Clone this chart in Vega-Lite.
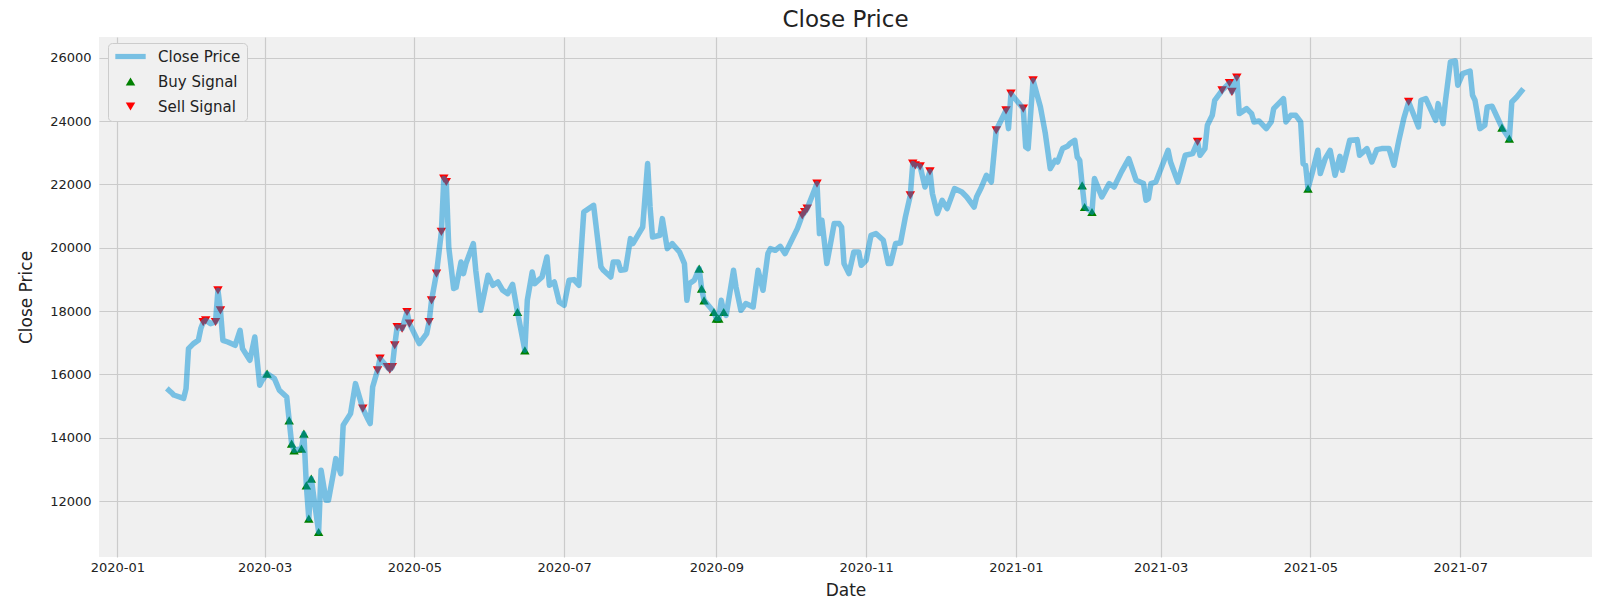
{
"$schema": "https://vega.github.io/schema/vega-lite/v6.json",
"autosize": {"type": "none"},
"width": 1493, "height": 520,
"padding": {"left": 99, "top": 37, "right": 8, "bottom": 51},
"background": "#ffffff",
"title": {"text": "Close Price", "font": "DejaVu Sans", "fontSize": 23, "fontWeight": "normal", "color": "#222222", "anchor": "middle", "frame": "group", "baseline": "alphabetic", "offset": 12, "dy": 24.5},
"config": {"view": {"fill": "#f0f0f0", "stroke": null}},
"data": {"values": [
{"Date":"2020-01-22","Close":15500},{"Date":"2020-01-23","Close":15430},{"Date":"2020-01-24","Close":15350},{"Date":"2020-01-28","Close":15240},{"Date":"2020-01-29","Close":15550},{"Date":"2020-01-30","Close":16815},{"Date":"2020-02-01","Close":16973},{"Date":"2020-02-03","Close":17077},{"Date":"2020-02-04","Close":17447},
{"Date":"2020-02-05","Close":17650,"Signal":"Sell Signal"},{"Date":"2020-02-06","Close":17709,"Signal":"Sell Signal"},{"Date":"2020-02-08","Close":17604},{"Date":"2020-02-10","Close":17656,"Signal":"Sell Signal"},{"Date":"2020-02-11","Close":18657,"Signal":"Sell Signal"},{"Date":"2020-02-12","Close":18025,"Signal":"Sell Signal"},
{"Date":"2020-02-13","Close":17077},{"Date":"2020-02-15","Close":17024},{"Date":"2020-02-18","Close":16920},{"Date":"2020-02-20","Close":17393},{"Date":"2020-02-21","Close":16815},{"Date":"2020-02-24","Close":16446},{"Date":"2020-02-26","Close":17182},{"Date":"2020-02-28","Close":15656},{"Date":"2020-02-29","Close":15813},
{"Date":"2020-03-02","Close":16025,"Signal":"Buy Signal"},{"Date":"2020-03-05","Close":15867},{"Date":"2020-03-07","Close":15498},{"Date":"2020-03-10","Close":15286},
{"Date":"2020-03-11","Close":14550,"Signal":"Buy Signal"},{"Date":"2020-03-12","Close":13813,"Signal":"Buy Signal"},{"Date":"2020-03-13","Close":13602,"Signal":"Buy Signal"},{"Date":"2020-03-16","Close":13655,"Signal":"Buy Signal"},{"Date":"2020-03-17","Close":14129,"Signal":"Buy Signal"},{"Date":"2020-03-18","Close":12496,"Signal":"Buy Signal"},{"Date":"2020-03-19","Close":11444,"Signal":"Buy Signal"},{"Date":"2020-03-20","Close":12708,"Signal":"Buy Signal"},{"Date":"2020-03-23","Close":11021,"Signal":"Buy Signal"},
{"Date":"2020-03-24","Close":12970},{"Date":"2020-03-26","Close":12022},{"Date":"2020-03-27","Close":12022},{"Date":"2020-03-29","Close":12866},{"Date":"2020-03-30","Close":13340},{"Date":"2020-04-01","Close":12866},{"Date":"2020-04-02","Close":14392},{"Date":"2020-04-05","Close":14761},{"Date":"2020-04-07","Close":15709},{"Date":"2020-04-09","Close":15182},
{"Date":"2020-04-10","Close":14919,"Signal":"Sell Signal"},{"Date":"2020-04-12","Close":14600},{"Date":"2020-04-13","Close":14445},{"Date":"2020-04-14","Close":15603},
{"Date":"2020-04-16","Close":16130,"Signal":"Sell Signal"},{"Date":"2020-04-17","Close":16499,"Signal":"Sell Signal"},{"Date":"2020-04-20","Close":16234,"Signal":"Sell Signal"},{"Date":"2020-04-21","Close":16152,"Signal":"Sell Signal"},{"Date":"2020-04-22","Close":16234,"Signal":"Sell Signal"},{"Date":"2020-04-23","Close":16920,"Signal":"Sell Signal"},{"Date":"2020-04-24","Close":17498,"Signal":"Sell Signal"},{"Date":"2020-04-26","Close":17447,"Signal":"Sell Signal"},{"Date":"2020-04-28","Close":17972,"Signal":"Sell Signal"},{"Date":"2020-04-29","Close":17605,"Signal":"Sell Signal"},
{"Date":"2020-05-03","Close":16973},{"Date":"2020-05-06","Close":17289},
{"Date":"2020-05-07","Close":17656,"Signal":"Sell Signal"},{"Date":"2020-05-08","Close":18341,"Signal":"Sell Signal"},{"Date":"2020-05-10","Close":19185,"Signal":"Sell Signal"},{"Date":"2020-05-12","Close":20500,"Signal":"Sell Signal"},{"Date":"2020-05-13","Close":22186,"Signal":"Sell Signal"},{"Date":"2020-05-14","Close":22079,"Signal":"Sell Signal"},
{"Date":"2020-05-15","Close":20025},{"Date":"2020-05-17","Close":18711},{"Date":"2020-05-18","Close":18750},{"Date":"2020-05-20","Close":19551},{"Date":"2020-05-21","Close":19185},{"Date":"2020-05-22","Close":19501},{"Date":"2020-05-25","Close":20133},{"Date":"2020-05-26","Close":19289},{"Date":"2020-05-28","Close":18025},{"Date":"2020-05-30","Close":18762},{"Date":"2020-05-31","Close":19131},
{"Date":"2020-06-02","Close":18815},{"Date":"2020-06-04","Close":18920},{"Date":"2020-06-06","Close":18657},{"Date":"2020-06-08","Close":18552},{"Date":"2020-06-10","Close":18846},
{"Date":"2020-06-12","Close":17972,"Signal":"Buy Signal"},{"Date":"2020-06-15","Close":16762,"Signal":"Buy Signal"},
{"Date":"2020-06-16","Close":18341},{"Date":"2020-06-18","Close":19235},{"Date":"2020-06-19","Close":18869},{"Date":"2020-06-22","Close":19077},{"Date":"2020-06-24","Close":19709},{"Date":"2020-06-25","Close":18815},{"Date":"2020-06-27","Close":18920},{"Date":"2020-06-29","Close":18288},{"Date":"2020-07-01","Close":18183},{"Date":"2020-07-03","Close":18973},{"Date":"2020-07-05","Close":18995},{"Date":"2020-07-07","Close":18815},{"Date":"2020-07-09","Close":21131},{"Date":"2020-07-13","Close":21343},{"Date":"2020-07-16","Close":19395},{"Date":"2020-07-17","Close":19289},{"Date":"2020-07-20","Close":19077},{"Date":"2020-07-21","Close":19551},{"Date":"2020-07-23","Close":19551},{"Date":"2020-07-24","Close":19289},{"Date":"2020-07-26","Close":19311},{"Date":"2020-07-28","Close":20290},{"Date":"2020-07-29","Close":20133},
{"Date":"2020-08-02","Close":20657},{"Date":"2020-08-04","Close":22660},{"Date":"2020-08-05","Close":21289},{"Date":"2020-08-06","Close":20341},{"Date":"2020-08-09","Close":20395},{"Date":"2020-08-10","Close":20922},{"Date":"2020-08-12","Close":19974},{"Date":"2020-08-14","Close":20133},{"Date":"2020-08-17","Close":19868},{"Date":"2020-08-19","Close":19501},{"Date":"2020-08-20","Close":18341},{"Date":"2020-08-21","Close":18869},{"Date":"2020-08-23","Close":18973},
{"Date":"2020-08-25","Close":19343,"Signal":"Buy Signal"},{"Date":"2020-08-26","Close":18711,"Signal":"Buy Signal"},{"Date":"2020-08-27","Close":18341,"Signal":"Buy Signal"},{"Date":"2020-08-31","Close":17972,"Signal":"Buy Signal"},{"Date":"2020-09-01","Close":17763,"Signal":"Buy Signal"},{"Date":"2020-09-02","Close":17763,"Signal":"Buy Signal"},{"Date":"2020-09-03","Close":18341},{"Date":"2020-09-04","Close":17972,"Signal":"Buy Signal"},
{"Date":"2020-09-05","Close":17867},{"Date":"2020-09-08","Close":19289},{"Date":"2020-09-09","Close":18762},{"Date":"2020-09-11","Close":18025},{"Date":"2020-09-13","Close":18237},{"Date":"2020-09-16","Close":18130},{"Date":"2020-09-18","Close":19289},{"Date":"2020-09-20","Close":18657},{"Date":"2020-09-22","Close":19817},{"Date":"2020-09-23","Close":19974},{"Date":"2020-09-25","Close":19921},{"Date":"2020-09-27","Close":20047},{"Date":"2020-09-29","Close":19817},{"Date":"2020-10-02","Close":20290},{"Date":"2020-10-04","Close":20606},
{"Date":"2020-10-06","Close":21027,"Signal":"Sell Signal"},{"Date":"2020-10-07","Close":21131,"Signal":"Sell Signal"},{"Date":"2020-10-08","Close":21238,"Signal":"Sell Signal"},{"Date":"2020-10-12","Close":22028,"Signal":"Sell Signal"},
{"Date":"2020-10-13","Close":20449},{"Date":"2020-10-14","Close":20869},{"Date":"2020-10-16","Close":19501},{"Date":"2020-10-18","Close":20341},{"Date":"2020-10-19","Close":20764},{"Date":"2020-10-21","Close":20764},{"Date":"2020-10-22","Close":20657},{"Date":"2020-10-23","Close":19501},{"Date":"2020-10-25","Close":19185},{"Date":"2020-10-27","Close":19868},{"Date":"2020-10-29","Close":19868},{"Date":"2020-10-30","Close":19447},
{"Date":"2020-11-01","Close":19605},{"Date":"2020-11-03","Close":20395},{"Date":"2020-11-05","Close":20449},{"Date":"2020-11-08","Close":20237},{"Date":"2020-11-10","Close":19501},{"Date":"2020-11-11","Close":19501},{"Date":"2020-11-13","Close":20133},{"Date":"2020-11-15","Close":20152},{"Date":"2020-11-17","Close":20973},
{"Date":"2020-11-19","Close":21659,"Signal":"Sell Signal"},{"Date":"2020-11-20","Close":22660,"Signal":"Sell Signal"},{"Date":"2020-11-21","Close":22607,"Signal":"Sell Signal"},{"Date":"2020-11-23","Close":22575,"Signal":"Sell Signal"},{"Date":"2020-11-25","Close":21921},{"Date":"2020-11-27","Close":22417,"Signal":"Sell Signal"},
{"Date":"2020-11-28","Close":21712},{"Date":"2020-11-30","Close":21081},{"Date":"2020-12-02","Close":21501},{"Date":"2020-12-04","Close":21238},{"Date":"2020-12-07","Close":21870},{"Date":"2020-12-10","Close":21763},{"Date":"2020-12-12","Close":21605},{"Date":"2020-12-15","Close":21289},{"Date":"2020-12-16","Close":21605},{"Date":"2020-12-18","Close":21921},{"Date":"2020-12-20","Close":22291},{"Date":"2020-12-22","Close":22079},
{"Date":"2020-12-24","Close":23712,"Signal":"Sell Signal"},{"Date":"2020-12-26","Close":24028},{"Date":"2020-12-28","Close":24344,"Signal":"Sell Signal"},{"Date":"2020-12-29","Close":23765},{"Date":"2020-12-30","Close":24871,"Signal":"Sell Signal"},{"Date":"2021-01-04","Close":24397,"Signal":"Sell Signal"},{"Date":"2021-01-05","Close":23185},{"Date":"2021-01-06","Close":23134},{"Date":"2021-01-08","Close":25292,"Signal":"Sell Signal"},
{"Date":"2021-01-11","Close":24449},{"Date":"2021-01-13","Close":23608},{"Date":"2021-01-15","Close":22502},{"Date":"2021-01-17","Close":22765},{"Date":"2021-01-18","Close":22711},{"Date":"2021-01-20","Close":23134},{"Date":"2021-01-22","Close":23207},{"Date":"2021-01-23","Close":23292},{"Date":"2021-01-25","Close":23397},{"Date":"2021-01-26","Close":22869},{"Date":"2021-01-27","Close":22765},
{"Date":"2021-01-28","Close":21975,"Signal":"Buy Signal"},{"Date":"2021-01-29","Close":21289,"Signal":"Buy Signal"},{"Date":"2021-02-01","Close":21131,"Signal":"Buy Signal"},
{"Date":"2021-02-02","Close":22186},{"Date":"2021-02-05","Close":21605},{"Date":"2021-02-08","Close":22028},{"Date":"2021-02-10","Close":21921},{"Date":"2021-02-13","Close":22400},{"Date":"2021-02-16","Close":22818},{"Date":"2021-02-19","Close":22133},{"Date":"2021-02-22","Close":22028},{"Date":"2021-02-23","Close":21501},{"Date":"2021-02-24","Close":21554},{"Date":"2021-02-25","Close":22028},{"Date":"2021-02-27","Close":22079},
{"Date":"2021-03-04","Close":23081},{"Date":"2021-03-05","Close":22711},{"Date":"2021-03-08","Close":22079},{"Date":"2021-03-11","Close":22923},{"Date":"2021-03-14","Close":22976},{"Date":"2021-03-16","Close":23344,"Signal":"Sell Signal"},{"Date":"2021-03-17","Close":22923},{"Date":"2021-03-19","Close":23134},{"Date":"2021-03-20","Close":23871},{"Date":"2021-03-22","Close":24187},{"Date":"2021-03-23","Close":24660},
{"Date":"2021-03-26","Close":24976,"Signal":"Sell Signal"},{"Date":"2021-03-29","Close":25207,"Signal":"Sell Signal"},{"Date":"2021-03-30","Close":24923,"Signal":"Sell Signal"},{"Date":"2021-04-01","Close":25377,"Signal":"Sell Signal"},
{"Date":"2021-04-02","Close":24240},{"Date":"2021-04-05","Close":24397},{"Date":"2021-04-07","Close":24240},{"Date":"2021-04-08","Close":23976},{"Date":"2021-04-10","Close":24008},{"Date":"2021-04-13","Close":23765},{"Date":"2021-04-15","Close":23976},{"Date":"2021-04-16","Close":24397},{"Date":"2021-04-20","Close":24714},{"Date":"2021-04-21","Close":23976},{"Date":"2021-04-23","Close":24187},{"Date":"2021-04-25","Close":24187},{"Date":"2021-04-27","Close":23976},{"Date":"2021-04-28","Close":22660},{"Date":"2021-04-29","Close":22607},
{"Date":"2021-04-30","Close":21870,"Signal":"Buy Signal"},
{"Date":"2021-05-02","Close":22449},{"Date":"2021-05-04","Close":23081},{"Date":"2021-05-05","Close":22344},{"Date":"2021-05-07","Close":22818},{"Date":"2021-05-09","Close":23081},{"Date":"2021-05-11","Close":22291},{"Date":"2021-05-13","Close":22891},{"Date":"2021-05-14","Close":22449},{"Date":"2021-05-17","Close":23397},{"Date":"2021-05-20","Close":23418},{"Date":"2021-05-21","Close":22923},{"Date":"2021-05-24","Close":23134},{"Date":"2021-05-26","Close":22711},{"Date":"2021-05-28","Close":23102},{"Date":"2021-05-30","Close":23134},
{"Date":"2021-06-02","Close":23134},{"Date":"2021-06-04","Close":22607},{"Date":"2021-06-06","Close":23397},{"Date":"2021-06-08","Close":24083},{"Date":"2021-06-10","Close":24607,"Signal":"Sell Signal"},{"Date":"2021-06-14","Close":23817},{"Date":"2021-06-15","Close":24660},{"Date":"2021-06-17","Close":24714},{"Date":"2021-06-21","Close":24028},{"Date":"2021-06-22","Close":24555},{"Date":"2021-06-24","Close":23924},{"Date":"2021-06-25","Close":24660},{"Date":"2021-06-27","Close":25871},{"Date":"2021-06-29","Close":25903},{"Date":"2021-06-30","Close":25134},
{"Date":"2021-07-02","Close":25503},{"Date":"2021-07-05","Close":25587},{"Date":"2021-07-06","Close":24818},{"Date":"2021-07-07","Close":24660},{"Date":"2021-07-09","Close":23765},{"Date":"2021-07-11","Close":23871},{"Date":"2021-07-12","Close":24449},{"Date":"2021-07-14","Close":24470},{"Date":"2021-07-16","Close":24133},
{"Date":"2021-07-18","Close":23797,"Signal":"Buy Signal"},{"Date":"2021-07-21","Close":23450,"Signal":"Buy Signal"},{"Date":"2021-07-22","Close":24607},{"Date":"2021-07-24","Close":24765},{"Date":"2021-07-26","Close":24955}
]},
"encoding": {
  "x": {"field": "Date", "type": "temporal",
    "scale": {"type": "utc", "domain": [{"year": 2019, "month": 12, "date": 24, "hours": 13, "utc": true}, {"year": 2021, "month": 8, "date": 23, "hours": 16, "utc": true}]},
    "axis": {"title": "Date", "format": "%Y-%m",
      "values": [{"year":2020,"month":1,"date":1,"utc":true},{"year":2020,"month":3,"date":1,"utc":true},{"year":2020,"month":5,"date":1,"utc":true},{"year":2020,"month":7,"date":1,"utc":true},{"year":2020,"month":9,"date":1,"utc":true},{"year":2020,"month":11,"date":1,"utc":true},{"year":2021,"month":1,"date":1,"utc":true},{"year":2021,"month":3,"date":1,"utc":true},{"year":2021,"month":5,"date":1,"utc":true},{"year":2021,"month":7,"date":1,"utc":true}],
      "grid": true, "gridColor": "#cbcbcb", "gridWidth": 1.2, "domain": false, "ticks": false,
      "labelFont": "DejaVu Sans", "labelFontSize": 13, "labelColor": "#222222", "labelPadding": 4, "labelFlush": false, "labelOverlap": false,
      "titleFont": "DejaVu Sans", "titleFontSize": 17, "titleFontWeight": "normal", "titleColor": "#222222", "titlePadding": 8}},
  "y": {"field": "Close", "type": "quantitative",
    "scale": {"domain": [10231, 26660], "nice": false, "zero": false},
    "axis": {"title": "Close Price", "values": [12000, 14000, 16000, 18000, 20000, 22000, 24000, 26000], "format": "d",
      "grid": true, "gridColor": "#cbcbcb", "gridWidth": 1.2, "domain": false, "ticks": false,
      "labelFont": "DejaVu Sans", "labelFontSize": 13, "labelColor": "#222222", "labelPadding": 8,
      "titleFont": "DejaVu Sans", "titleFontSize": 17, "titleFontWeight": "normal", "titleColor": "#222222", "titlePadding": 14}}
},
"layer": [
  {"transform": [{"filter": "isValid(datum.Signal)"}],
   "mark": {"type": "point", "filled": true, "opacity": 1, "size": 90},
   "encoding": {
     "color": {"field": "Signal", "type": "nominal",
       "scale": {"domain": ["Close Price", "Buy Signal", "Sell Signal"], "range": ["#78c0e3", "#008000", "#ff0000"]},
       "legend": {"title": null, "orient": "none", "legendX": 9, "legendY": 6,
         "fillColor": "#f0f0f0", "strokeColor": "#cccccc", "cornerRadius": 4, "padding": 6,
         "labelFont": "DejaVu Sans", "labelFontSize": 15, "labelColor": "#222222", "labelOffset": 20,
         "symbolSize": 90, "symbolOffset": 9, "rowPadding": 9, "symbolStrokeWidth": 0}},
     "shape": {"field": "Signal", "type": "nominal",
       "scale": {"domain": ["Close Price", "Buy Signal", "Sell Signal"], "range": ["M-3.2,-0.55H3.2V0.55H-3.2Z", "triangle-up", "triangle-down"]},
       "legend": {"title": null, "orient": "none", "legendX": 9, "legendY": 6,
         "fillColor": "#f0f0f0", "strokeColor": "#cccccc", "cornerRadius": 4, "padding": 6,
         "labelFont": "DejaVu Sans", "labelFontSize": 15, "labelColor": "#222222", "labelOffset": 20,
         "symbolSize": 90, "symbolOffset": 9, "rowPadding": 9, "symbolStrokeWidth": 0}}
   }},
  {"mark": {"type": "line", "stroke": "#008fd5", "strokeWidth": 5.5, "opacity": 0.5, "strokeJoin": "round", "strokeCap": "square"},
   "encoding": {}}
]
}
